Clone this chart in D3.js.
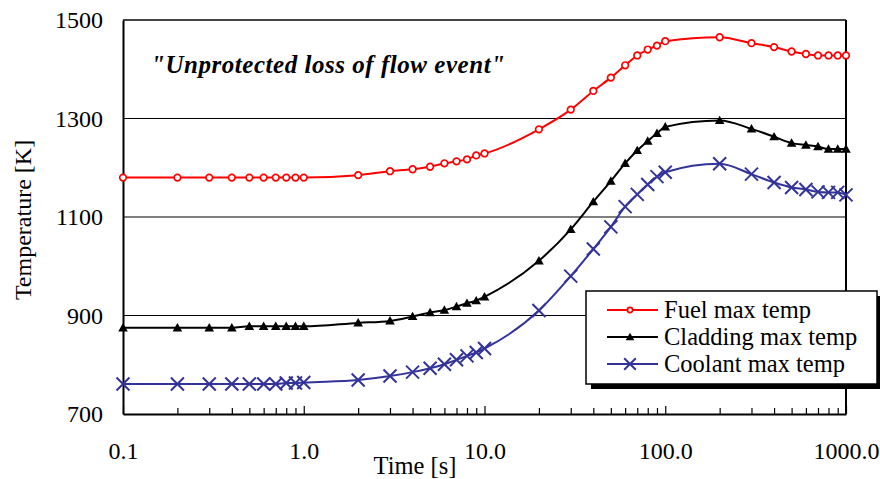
<!DOCTYPE html>
<html>
<head>
<meta charset="utf-8">
<script src="https://cdn.jsdelivr.net/npm/d3@7"></script>
<style>
  body { margin: 0; background: #fff; }
  svg text { font-family: "Liberation Serif", "DejaVu Serif", serif; fill: #000; }
</style>
</head>
<body>
<div id="chart"></div>
<script>

// time [s] for each sampled point
const times = [0.1, 0.2, 0.3, 0.4, 0.5, 0.6, 0.7, 0.8, 0.9, 1.0,
    2, 3, 4, 5, 6, 7, 8, 9, 10,
    20, 30, 40, 50, 60, 70, 80, 90, 100,
    200, 300, 400, 500, 600, 700, 800, 900, 1000]

const fuelTemp = [1180, 1180, 1180, 1180, 1180, 1180, 1180, 1180, 1180, 1180,
    1185, 1193, 1197, 1202, 1209, 1213, 1217, 1225, 1229,
    1278, 1318, 1356, 1383, 1408, 1428, 1440, 1448, 1457,
    1465, 1453, 1445, 1436, 1431, 1428, 1428, 1428, 1428]

const claddingTemp = [875, 875, 875, 875, 878, 878, 878, 878, 878, 878,
    885, 889, 898, 906, 911, 918, 925, 930, 938,
    1011, 1075, 1131, 1173, 1209, 1235, 1254, 1270, 1283,
    1296, 1279, 1263, 1250, 1246, 1243, 1238, 1238, 1238]

const coolantTemp = [761, 761, 761, 761, 761, 761, 761, 763, 763, 764,
    769, 777, 785, 793, 801, 810, 818, 825, 833,
    910, 980, 1035, 1080, 1121, 1146, 1166, 1182, 1191,
    1208, 1187, 1170, 1160, 1156, 1151, 1150, 1150, 1145]

const seriesNames = ['Fuel max temp', 'Cladding max temp', 'Coolant max temp']
const xTicks = [0.1, 1, 10, 100, 1000]
const yTicks = [700, 900, 1100, 1300, 1500]
const gridTicks = [900, 1100, 1300]

const width = 880
const height = 479

const svg = d3.select('#chart')
    .append('svg')
    .attr('width', width)
    .attr('height', height)

const x = d3.scaleLog()
    .domain([0.1, 1000])
    .range([123, 846])

const y = d3.scaleLinear()
    .domain([700, 1500])
    .range([414, 20])

// grid lines
svg.append('g')
    .selectAll('line')
    .data(gridTicks)
    .join('line')
    .attr('x1', x(0.1))
    .attr('x2', x(1000))
    .attr('y1', d => y(d))
    .attr('y2', d => y(d))
    .attr('stroke', '#000')
    .attr('stroke-width', 1.2)

// frame: top and right
svg.append('line')
    .attr('x1', x(0.1)).attr('x2', x(1000))
    .attr('y1', y(1500)).attr('y2', y(1500))
    .attr('stroke', '#444').attr('stroke-width', 2)
svg.append('line')
    .attr('x1', x(1000)).attr('x2', x(1000))
    .attr('y1', y(1500)).attr('y2', y(700))
    .attr('stroke', '#000').attr('stroke-width', 2)

// minor ticks on x, inside the plot
const minor = []
for (let p = -1; p < 3; p++) {
    for (let m = 2; m <= 9; m++) minor.push(m * Math.pow(10, p))
}

svg.append('g')
    .attr('transform', `translate(0,${y(700)})`)
    .call(d3.axisBottom(x).tickValues(minor).tickSize(-6).tickFormat(''))
    .call(g => g.select('.domain').remove())
    .selectAll('line').attr('stroke-width', 1.2)

const xAxis = svg.append('g')
    .attr('transform', `translate(0,${y(700)})`)
    .call(d3.axisBottom(x).tickValues(xTicks).tickSize(-8).tickSizeOuter(0)
        .tickPadding(28).tickFormat(d3.format('.1f')))
xAxis.attr('font-family', null)
xAxis.select('.domain').attr('stroke-width', 2)
xAxis.selectAll('line').attr('stroke-width', 1.2)
xAxis.selectAll('text').attr('font-size', 24)

const yAxis = svg.append('g')
    .attr('transform', `translate(${x(0.1)},0)`)
    .call(d3.axisLeft(y).tickValues(yTicks).tickSize(0).tickSizeOuter(0)
        .tickPadding(20).tickFormat(d3.format('d')))
yAxis.attr('font-family', null)
yAxis.select('.domain').attr('stroke-width', 2)
yAxis.selectAll('text').attr('font-size', 24)

// axis titles
svg.append('text')
    .attr('x', 415)
    .attr('y', 474)
    .attr('text-anchor', 'middle')
    .attr('font-size', 24.5)
    .text('Time [s]')

svg.append('text')
    .attr('transform', 'translate(31,220) rotate(-90)')
    .attr('text-anchor', 'middle')
    .attr('font-size', 24)
    .text('Temperature [K]')

svg.append('text')
    .attr('x', 151)
    .attr('y', 73)
    .attr('font-size', 25)
    .attr('font-weight', 'bold')
    .attr('font-style', 'italic')
    .attr('textLength', 354)
    .text('"Unprotected loss of flow event"')

// series
const series = [
    { name: seriesNames[0], values: fuelTemp, color: '#ff0000', marker: 'circle' },
    { name: seriesNames[1], values: claddingTemp, color: '#000000', marker: 'triangle' },
    { name: seriesNames[2], values: coolantTemp, color: '#333399', marker: 'cross' }
]

const line = d3.line()
    .x(d => x(d[0]))
    .y(d => y(d[1]))
    .curve(d3.curveMonotoneX)

const drawMarker = (g, type, color, big) => {
    if (type == 'circle') {
        g.append('circle')
            .attr('r', big ? 3.3 : 2.6)
            .attr('fill', '#fff')
            .attr('stroke', color)
            .attr('stroke-width', 1.7)
    } else if (type == 'triangle') {
        const s = big ? 4.8 : 4.3
        g.append('path')
            .attr('d', `M0,${-s}L${s},${s * 0.75}L${-s},${s * 0.75}Z`)
            .attr('fill', color)
    } else {
        const s = big ? 6.5 : 5.8
        g.append('path')
            .attr('d', `M${-s},${-s}L${s},${s}M${-s},${s}L${s},${-s}`)
            .attr('stroke', color)
            .attr('stroke-width', 2)
            .attr('fill', 'none')
    }
}

series.forEach(s => {
    const pts = times.map((t, i) => [t, s.values[i]])
    svg.append('path')
        .datum(pts)
        .attr('d', line)
        .attr('fill', 'none')
        .attr('stroke', s.color)
        .attr('stroke-width', 2)

    pts.forEach(p => {
        const g = svg.append('g')
            .attr('transform', `translate(${x(p[0])},${y(p[1])})`)
        drawMarker(g, s.marker, s.color, true)
    })
})

// legend
const legend = svg.append('g').attr('transform', 'translate(586,291)')
legend.append('rect')
    .attr('x', 5).attr('y', 5)
    .attr('width', 291).attr('height', 93)
    .attr('fill', '#000')
legend.append('rect')
    .attr('width', 291).attr('height', 93)
    .attr('fill', '#fff')
    .attr('stroke', '#000')
    .attr('stroke-width', 1.5)

series.forEach((s, i) => {
    const row = legend.append('g').attr('transform', `translate(0,${19 + i * 27})`)
    row.append('line')
        .attr('x1', 21).attr('x2', 72)
        .attr('stroke', s.color).attr('stroke-width', 2)
    const m = row.append('g').attr('transform', 'translate(44,0)')
    drawMarker(m, s.marker, s.color, false)
    row.append('text')
        .attr('x', 78)
        .attr('y', 8)
        .attr('font-size', 24.5)
        .text(s.name)
})

</script>
</body>
</html>
